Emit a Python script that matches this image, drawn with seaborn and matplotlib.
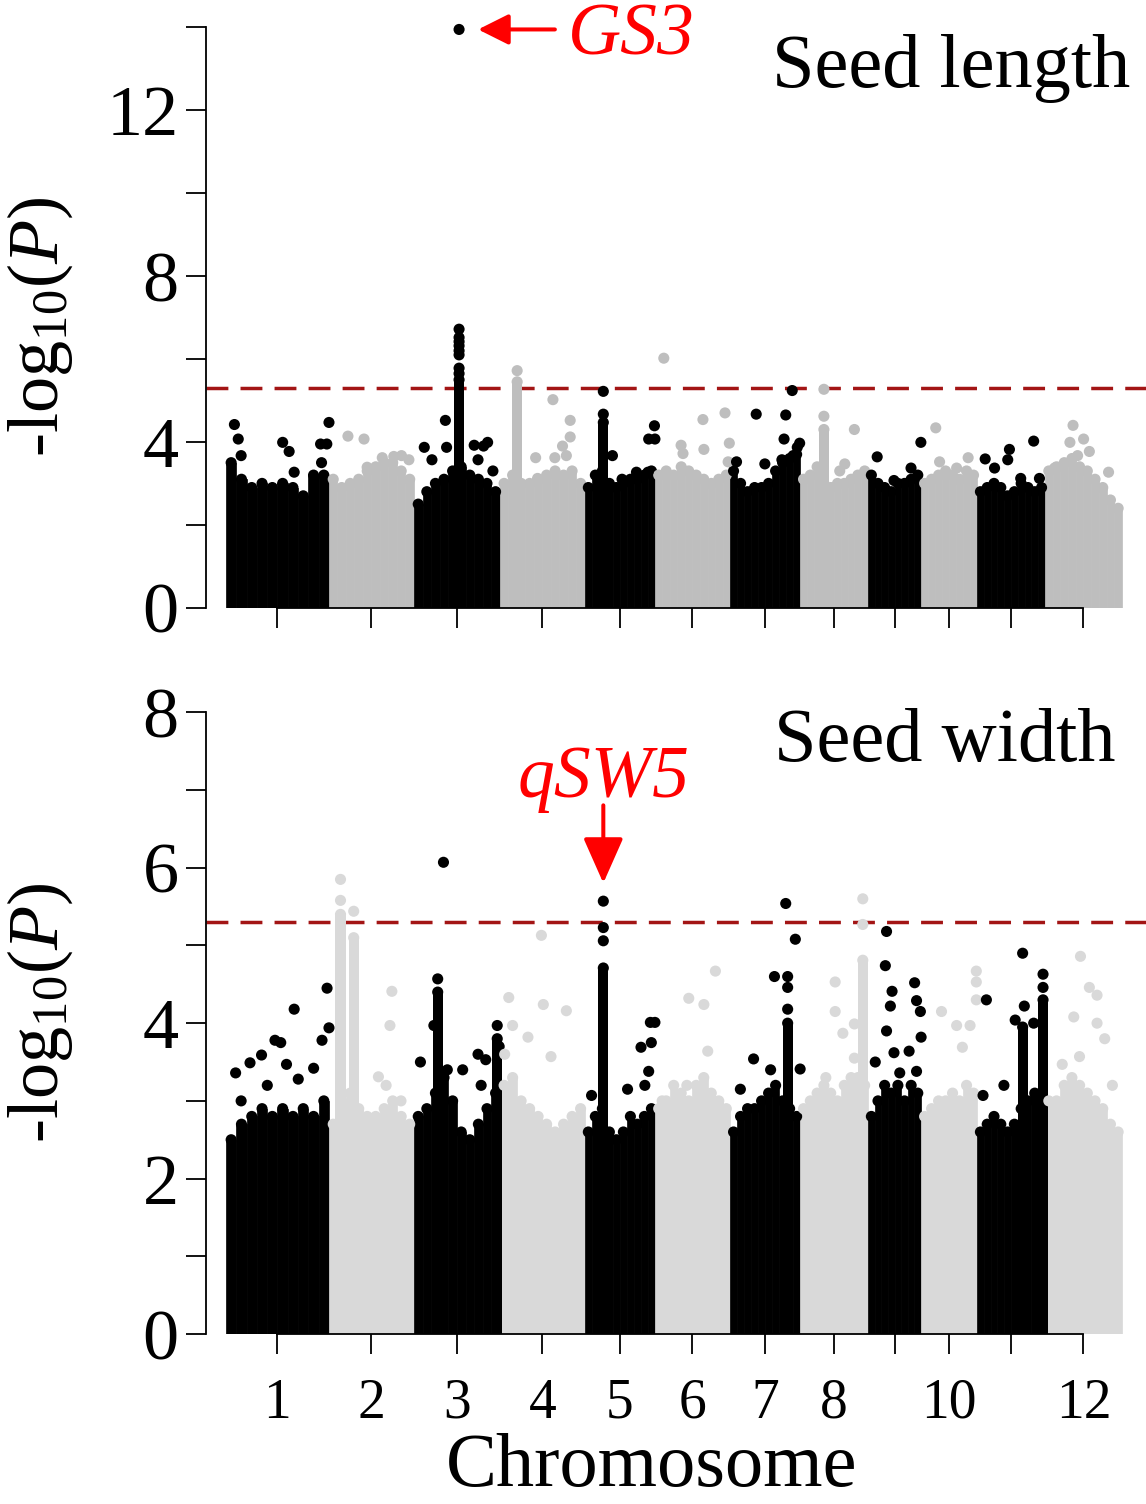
import numpy as np
import pandas as pd
import matplotlib
matplotlib.use("Agg")
import matplotlib.pyplot as plt
from matplotlib import font_manager
import seaborn as sns

# chromosome order, tick labels and lengths (Mb)
chrom_labels = ['1', '2', '3', '4', '5', '6', '7', '8', '', '10', '', '12']
chrom_len = [42.9, 35.4, 35.8, 35.4, 29.2, 31.3, 29.2, 28.3, 22.1, 23.3, 28.3, 32.1]

# ---- Seed length ----
# upper edge of the dense SNP cloud, evenly spaced bins along each chromosome
sl_cloud = [
    [3.5, 3.1, 2.9, 3.0, 2.9, 3.0, 2.9, 2.7, 3.2, 3.2],
    [3.1, 2.9, 3.0, 3.1, 3.3, 3.4, 3.5, 3.5, 3.3, 3.1],
    [2.5, 2.8, 3.0, 3.1, 3.3, 3.4, 3.2, 3.1, 3.0, 2.8],
    [3.0, 3.2, 3.0, 3.0, 3.1, 3.2, 3.3, 3.2, 3.3, 3.0],
    [2.9, 3.2, 3.3, 3.0, 2.9, 3.0, 3.1, 3.1, 3.2, 3.3],
    [3.2, 3.3, 3.2, 3.4, 3.3, 3.2, 3.1, 3.0, 3.1, 3.2],
    [3.3, 3.0, 2.8, 2.9, 2.9, 3.0, 3.3, 3.5, 3.6, 3.7],
    [3.1, 3.2, 3.4, 3.0, 2.9, 3.0, 3.0, 3.1, 3.2, 3.3],
    [3.2, 3.0, 2.9, 2.8, 3.0, 3.0, 3.1, 3.2],
    [3.0, 3.1, 3.2, 3.3, 3.2, 3.1, 3.3, 3.2],
    [2.8, 2.9, 3.0, 2.9, 2.7, 2.8, 3.0, 2.9, 2.8, 2.9],
    [3.3, 3.4, 3.5, 3.6, 3.4, 3.3, 3.1, 2.9, 2.6, 2.4],
]
# solid peak columns
sl_col_chr = [3, 4, 5, 8]
sl_col_pos = [18.8, 7.2, 7.7, 9.9]
sl_col_top = [5.5, 5.45, 4.47, 4.3]
# single SNPs above the cloud
sl_snp_chr = [1] * 10 + [2] * 7 + [3] * 18 + [4] * 9 + [5] * 9 + [6] * 8 + [7] * 10 + [8] * 5 + [9] * 4 + [10] * 4 + [11] * 7 + [12] * 7
sl_snp_pos = [3.5, 5.1, 6.3, 23.6, 26.3, 28.4, 39.4, 42.0, 42.9, 39.8,
              7.9, 14.6, 15.9, 22.2, 27.0, 30.2, 33.3,
              18.8, 18.8, 18.8, 18.8, 18.8, 18.8, 18.8, 18.8, 18.8, 4.3, 7.5, 13.1, 13.6, 25.1, 30.7, 26.7, 29.0, 32.9,
              7.2, 22.1, 29.3, 29.3, 14.9, 15.7, 22.9, 27.7, 26.1,
              7.7, 7.7, 11.5, 15.5, 21.5, 26.3, 26.6, 29.0, 29.2,
              3.7, 10.9, 11.7, 20.4, 20.0, 29.2, 31.0, 30.5,
              10.9, 23.2, 22.5, 25.9, 29.0, 2.7, 14.5, 21.6, 26.3, 28.0,
              9.9, 9.9, 22.6, 18.6, 16.5,
              3.8, 22.0, 17.9, 10.8,
              6.1, 19.6, 14.8, 7.7,
              3.4, 7.3, 13.5, 12.8, 23.6, 18.2, 26.0,
              11.7, 10.4, 16.1, 13.6, 18.5, 4.0, 26.5]
sl_snp_val = [4.42, 4.07, 3.67, 3.99, 3.77, 3.27, 3.95, 3.95, 4.47, 3.5,
              4.14, 4.07, 3.39, 3.62, 3.65, 3.67, 3.57,
              13.95, 6.72, 6.52, 6.42, 6.32, 6.2, 6.1, 5.78, 5.65, 3.87, 3.57, 4.52, 3.87, 3.92, 3.99, 3.57, 3.9, 3.3,
              5.72, 5.02, 4.52, 4.12, 3.62, 3.12, 3.62, 3.67, 3.9,
              5.22, 4.67, 3.67, 3.1, 3.27, 3.27, 4.07, 4.39, 4.07,
              6.02, 3.92, 3.72, 3.82, 4.54, 4.70, 3.97, 3.52,
              4.67, 4.65, 4.07, 5.24, 3.97, 3.52, 3.47, 3.57, 3.67, 3.87,
              5.27, 4.62, 4.30, 3.47, 3.3,
              3.64, 3.99, 3.37, 3.07,
              4.34, 3.62, 3.37, 3.52,
              3.59, 3.37, 3.82, 3.57, 4.02, 3.12, 3.12,
              4.40, 3.99, 4.07, 3.67, 3.77, 3.37, 3.27]

# ---- Seed width ----
sw_cloud = [
    [2.5, 2.7, 2.8, 2.9, 2.8, 2.9, 2.8, 2.9, 2.8, 3.0],
    [2.7, 3.0, 3.1, 2.9, 2.8, 2.8, 2.9, 3.0, 2.8, 2.7],
    [2.8, 2.9, 3.1, 3.3, 3.0, 2.6, 2.5, 2.7, 2.9, 3.1],
    [3.2, 3.3, 3.0, 2.9, 2.8, 2.7, 2.6, 2.7, 2.8, 2.9],
    [2.6, 2.8, 2.9, 2.6, 2.5, 2.6, 2.8, 2.7, 2.8, 2.9],
    [2.9, 3.0, 3.2, 3.1, 3.0, 3.2, 3.3, 3.1, 3.0, 2.9],
    [2.6, 2.8, 2.9, 2.9, 3.0, 3.1, 3.2, 3.0, 2.9, 2.8],
    [2.9, 3.0, 3.1, 3.2, 3.1, 3.0, 3.2, 3.3, 3.3, 3.2],
    [2.8, 3.0, 3.2, 3.1, 3.2, 3.0, 3.2, 3.1],
    [2.8, 2.9, 3.0, 3.0, 3.1, 3.0, 3.2, 3.1],
    [2.6, 2.7, 2.8, 2.7, 2.6, 2.7, 2.9, 3.0, 3.1, 2.9],
    [3.0, 3.0, 3.2, 3.3, 3.2, 3.1, 3.0, 2.9, 2.7, 2.6],
]
sw_col_chr = [2, 2, 3, 3, 5, 7, 8, 11, 11]
sw_col_pos = [4.8, 10.3, 9.9, 34.7, 7.7, 24.0, 26.1, 27.5, 19.0]
sw_col_top = [5.4, 5.1, 4.4, 3.8, 4.71, 4.0, 4.81, 4.3, 3.95]
sw_snp_chr = [1] * 14 + [2] * 8 + [3] * 11 + [4] * 8 + [5] * 11 + [6] * 6 + [7] * 10 + [8] * 8 + [9] * 14 + [10] * 7 + [11] * 9 + [12] * 9
sw_snp_pos = [4.0, 10.0, 14.8, 20.4, 22.8, 28.4, 25.2, 36.5, 40.0, 42.1, 42.9, 6.3, 17.2, 30.1,
              4.8, 4.8, 10.3, 26.2, 25.4, 20.6, 23.8, 30.0,
              12.3, 9.9, 2.7, 8.3, 20.3, 26.7, 29.9, 34.7, 35.5, 28.0, 13.9,
              3.7, 17.3, 18.1, 27.7, 5.3, 11.7, 21.3, 2.0,
              7.7, 7.7, 7.7, 17.8, 23.4, 27.3, 29.2, 27.7, 26.6, 25.0, 2.8,
              25.2, 14.1, 20.4, 22.0, 13.3, 3.0,
              23.2, 27.2, 18.5, 24.0, 24.0, 24.0, 29.2, 9.8, 4.3, 16.9,
              26.1, 26.1, 14.6, 22.6, 14.6, 17.8, 10.7, 22.6,
              7.7, 7.2, 10.0, 9.3, 19.4, 20.2, 21.8, 7.7, 22.1, 10.8, 17.1, 3.0, 20.2, 13.2,
              8.5, 14.8, 20.4, 17.2, 23.0, 23.0, 23.0,
              19.0, 27.5, 27.5, 3.9, 15.9, 19.7, 23.6, 11.2, 2.5,
              14.8, 18.5, 21.7, 21.7, 24.9, 12.0, 14.4, 7.2, 28.1]
sw_snp_val = [3.36, 3.49, 3.59, 3.78, 3.75, 4.18, 3.47, 3.42, 3.78, 4.45, 3.94, 3.0, 3.2, 3.28,
              5.85, 5.58, 5.44, 4.41, 3.97, 3.31, 3.2, 3.0,
              6.07, 4.57, 3.5, 3.97, 3.4, 3.6, 3.53, 3.97, 3.7, 3.2, 3.4,
              4.33, 5.13, 4.24, 4.16, 3.97, 3.82, 3.57, 3.6,
              5.57, 5.23, 5.06, 3.15, 3.69, 4.01, 4.01, 3.75, 3.38, 3.2, 3.07,
              4.67, 4.32, 4.24, 3.64, 3.2, 3.0,
              5.54, 5.08, 4.6, 4.6, 4.46, 4.18, 3.41, 3.54, 3.15, 3.4,
              5.6, 5.27, 4.53, 3.99, 4.15, 3.87, 3.3, 3.55,
              5.18, 4.74, 4.41, 4.22, 4.52, 4.29, 4.15, 3.9, 3.82, 3.62, 3.64, 3.5, 3.38, 3.36,
              4.15, 3.97, 3.97, 3.69, 4.67, 4.53, 4.3,
              4.9, 4.63, 4.46, 4.3, 4.04, 4.22, 4.0, 3.2, 3.07,
              4.86, 4.46, 4.36, 4.0, 3.8, 4.08, 3.57, 3.47, 3.2]

threshold = 5.3
gs3 = (3, 18.8, 13.95)
qsw5 = (5, 7.7, 5.57)

starts = np.concatenate([[0], np.cumsum(chrom_len)[:-1]])
centers = starts + np.array(chrom_len) / 2
RED = '#ff0000'


def draw_panel(ax, cloud, col_chr, col_pos, col_top, snp_chr, snp_pos, snp_val, grey, ymax):
    pal = {'odd': 'black', 'even': grey}
    dots = []
    # dense cloud as filled bins, a dot on top of each bin
    for i, tops in enumerate(cloud):
        w = chrom_len[i] / len(tops)
        xs = starts[i] + (np.arange(len(tops)) + 0.5) * w
        c = pal['odd'] if i % 2 == 0 else pal['even']
        ax.bar(xs, tops, width=w, color=c, edgecolor=c, linewidth=0.5, zorder=2)
        for x, h in zip(xs, tops):
            dots.append((x, h, 'odd' if i % 2 == 0 else 'even'))
    # peak columns
    for ch, p, t in zip(col_chr, col_pos, col_top):
        c = pal['odd'] if ch % 2 == 1 else pal['even']
        ax.bar(starts[ch - 1] + p, t, width=4.2, color=c, linewidth=0, zorder=2)
        dots.append((starts[ch - 1] + p, t, 'odd' if ch % 2 == 1 else 'even'))
    for ch, p, v in zip(snp_chr, snp_pos, snp_val):
        dots.append((starts[ch - 1] + p, v, 'odd' if ch % 2 == 1 else 'even'))
    df = pd.DataFrame(dots, columns=['pos', 'logp', 'group'])
    sns.scatterplot(data=df, x='pos', y='logp', hue='group', palette=pal, s=64,
                    linewidth=0, legend=False, zorder=3, clip_on=False, ax=ax)
    ax.axhline(threshold, color='#a31515', lw=2.5, dashes=(6.3, 3.5), zorder=1)

    ax.set_xlim(-8.46, 383.3)
    ax.set_ylim(0, ymax)
    sns.despine(ax=ax)
    ax.spines['left'].set_bounds(0, ymax)
    ax.spines['bottom'].set_bounds(centers[0], centers[-1])
    for s in ('left', 'bottom'):
        ax.spines[s].set_linewidth(1.3)
        ax.spines[s].set_color('black')
    ax.set_xticks(centers)
    ax.tick_params(which='both', direction='out', length=14.4, width=1.3, color='black',
                   labelcolor='black')
    ax.tick_params(axis='y', labelsize=52, pad=5)
    ax.tick_params(axis='x', labelsize=40, pad=17)
    ax.set_xlabel('')
    ax.set_ylabel('')


sns.set_style("ticks")
names = {f.name for f in font_manager.fontManager.ttflist}
serif = next((n for n in ['Liberation Serif', 'Times New Roman', 'DejaVu Serif'] if n in names), 'serif')
plt.rcParams['font.family'] = [serif, 'DejaVu Sans']
plt.rcParams['text.color'] = 'black'
plt.rcParams['mathtext.fontset'] = 'custom'
plt.rcParams['mathtext.rm'] = serif
plt.rcParams['mathtext.it'] = serif + ':italic'

fig = plt.figure(figsize=(11.46, 15.04), dpi=100)
ax1 = fig.add_axes([0.1795, 0.5959, 0.8205, 0.3859])
ax2 = fig.add_axes([0.1795, 0.1130, 0.8205, 0.4134])

draw_panel(ax1, sl_cloud, sl_col_chr, sl_col_pos, sl_col_top,
           sl_snp_chr, sl_snp_pos, sl_snp_val, '#bebebe', 14)
ax1.set_yticks([0, 4, 8, 12])
ax1.set_yticks([2, 6, 10, 14], minor=True)
ax1.set_xticklabels([''] * 12)

draw_panel(ax2, sw_cloud, sw_col_chr, sw_col_pos, sw_col_top,
           sw_snp_chr, sw_snp_pos, sw_snp_val, '#d9d9d9', 8)
ax2.set_yticks([0, 2, 4, 6, 8])
ax2.set_yticks([1, 3, 5, 7], minor=True)
ax2.set_xticklabels(chrom_labels)

# gene annotations
gx, gy = starts[gs3[0] - 1] + gs3[1], gs3[2]
ax1.annotate('', xy=(gx, gy), xytext=(69, 0), textcoords='offset points',
             arrowprops=dict(arrowstyle='-|>,head_length=0.94,head_width=0.47', mutation_scale=20,
                             color=RED, lw=2.9, shrinkA=0, shrinkB=13.7), annotation_clip=False)
ax1.annotate('GS3', xy=(gx, gy), xytext=(78.5, -18), textcoords='offset points',
             ha='left', va='baseline', color=RED, style='italic', fontsize=53, annotation_clip=False)

qx, qy = starts[qsw5[0] - 1] + qsw5[1], qsw5[2]
ax2.annotate('', xy=(qx, qy), xytext=(0, 69), textcoords='offset points',
             arrowprops=dict(arrowstyle='-|>,head_length=1.4,head_width=0.62', mutation_scale=20,
                             color=RED, lw=2.9, shrinkA=0, shrinkB=13), annotation_clip=False)
ax2.annotate('qSW5', xy=(qx, qy), xytext=(0, 75), textcoords='offset points',
             ha='center', va='baseline', color=RED, style='italic', fontsize=53, annotation_clip=False)

fig.text(1130 / 1146, 1 - 87 / 1504, 'Seed length', ha='right', va='baseline', fontsize=55)
fig.text(1115 / 1146, 1 - 761 / 1504, 'Seed width', ha='right', va='baseline', fontsize=55)
fig.text(652 / 1146, 0.001, 'Chromosome', ha='center', va='bottom', fontsize=55)
fig.text(40 / 1146, 1 - 327 / 1504, r'-log$_{10}$($P$)', rotation=90, ha='center', va='center', fontsize=52)
fig.text(40 / 1146, 1 - 1013 / 1504, r'-log$_{10}$($P$)', rotation=90, ha='center', va='center', fontsize=52)

fig.savefig('out.png', dpi=100)
